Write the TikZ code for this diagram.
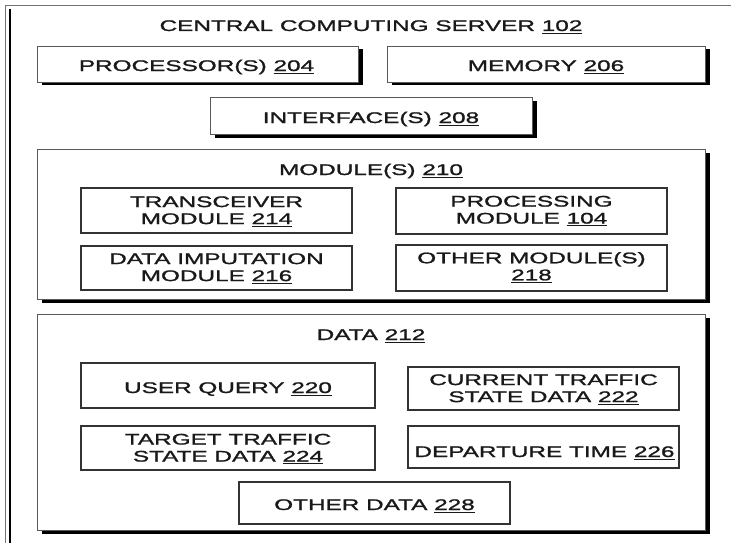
\documentclass[tikz,border=0pt]{standalone}
\usepackage{fontspec}
\setmainfont{Liberation Sans}[FakeStretch=1.58, FakeBold=1.4]
\usetikzlibrary{shadows}
\newcommand\undl[1]{\setbox0\hbox{#1}\rlap{\rule[-2.6pt]{\wd0}{1pt}}\box0}
\tikzset{
  bigbox/.style={draw=black!65, line width=0.8pt, fill=white, inner sep=0pt, outer sep=0pt,
    drop shadow={shadow xshift=5pt, shadow yshift=-3.5pt, fill=black, opacity=1}},
  smallbox/.style={draw=black!80, line width=1.5pt, fill=white, inner sep=0pt, outer sep=0pt},
  lbl/.style={font=\fontsize{15.4pt}{17pt}\selectfont, text=black!90, inner sep=0pt, align=center},
}
\begin{document}
\begin{tikzpicture}[x=1pt,y=-1pt]
\useasboundingbox (0,0) rectangle (731,543);
% outer server box
\draw[black!55, line width=0.8pt] (5.5,5.5) rectangle (760,600);
\draw[black, line width=2pt] (9.5,9) -- (9.5,560);
\node[lbl, anchor=base] (t102) at (371,31) {CENTRAL COMPUTING SERVER \undl{102}};
% top boxes
\node[bigbox, minimum width=321pt, minimum height=36pt] (proc) at (197.5,64) {};
\node[lbl, anchor=base] (t204) at (196.5,71) {PROCESSOR(S) \undl{204}};
\node[bigbox, minimum width=318pt, minimum height=36pt] (mem) at (546,64) {};
\node[lbl, anchor=base] (t206) at (546,71) {MEMORY \undl{206}};
\node[bigbox, minimum width=322pt, minimum height=37pt] (intf) at (371,115.5) {};
\node[lbl, anchor=base] (t208) at (371,123) {INTERFACE(S) \undl{208}};
% modules
\node[bigbox, minimum width=668pt, minimum height=150pt] (mods) at (371,224) {};
\node[lbl, anchor=base] (t210) at (371,175) {MODULE(S) \undl{210}};
\node[smallbox, minimum width=271pt, minimum height=45pt] (trans) at (216.5,210.5) {};
\node[lbl] (t214) at (216.5,211.5) {TRANSCEIVER\\MODULE \undl{214}};
\node[smallbox, minimum width=271pt, minimum height=46pt] (procm) at (531.5,211) {};
\node[lbl] (t104) at (531.5,211) {PROCESSING\\MODULE \undl{104}};
\node[smallbox, minimum width=271pt, minimum height=44pt] (imput) at (216.5,268) {};
\node[lbl] (t216) at (216.5,268.5) {DATA IMPUTATION\\MODULE \undl{216}};
\node[smallbox, minimum width=271pt, minimum height=46pt] (othm) at (531.5,268) {};
\node[lbl] (t218) at (531.5,267.5) {OTHER MODULE(S)\\\undl{218}};
% data
\node[bigbox, minimum width=668pt, minimum height=216pt] (data) at (371,422) {};
\node[lbl, anchor=base] (t212) at (371,340) {DATA \undl{212}};
\node[smallbox, minimum width=294pt, minimum height=45pt] (uq) at (228,385.5) {};
\node[lbl, anchor=base] (t220) at (228,393) {USER QUERY \undl{220}};
\node[smallbox, minimum width=271pt, minimum height=43pt] (cur) at (543.5,388.5) {};
\node[lbl] (t222) at (543.5,389.5) {CURRENT TRAFFIC\\STATE DATA \undl{222}};
\node[smallbox, minimum width=294pt, minimum height=44pt] (tgt) at (228,448) {};
\node[lbl] (t224) at (228,449) {TARGET TRAFFIC\\STATE DATA \undl{224}};
\node[smallbox, minimum width=271pt, minimum height=42pt] (dep) at (543.5,447) {};
\node[lbl, anchor=base] (t226) at (544.5,457) {DEPARTURE TIME \undl{226}};
\node[smallbox, minimum width=271pt, minimum height=42pt] (oth) at (374.5,503) {};
\node[lbl, anchor=base] (t228) at (374.5,510) {OTHER DATA \undl{228}};
\end{tikzpicture}
\end{document}
